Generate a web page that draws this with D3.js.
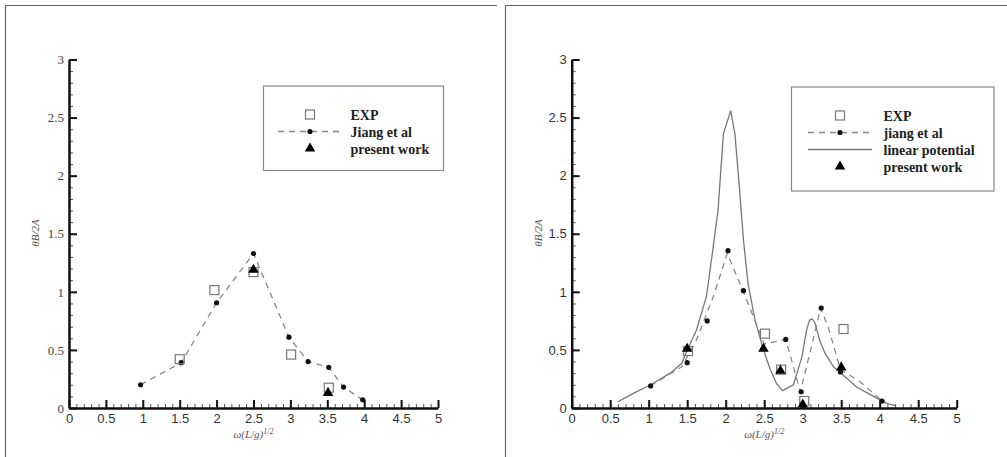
<!DOCTYPE html>
<html>
<head>
<meta charset="utf-8">
<script src="https://cdn.jsdelivr.net/npm/d3@7"></script>
<style>
  body { margin: 0; background: #fff; }
  svg { display: block; }
</style>
</head>
<body>
<script>
// Two panels: response amplitude vs. frequency

// left panel data
const leftExpX = [1.5, 1.97, 2.5, 3.01, 3.52];
const leftExpY = [0.42, 1.015, 1.17, 0.46, 0.175];
const leftJiangX = [0.97, 1.52, 2.0, 2.5, 2.98, 3.24, 3.52, 3.72, 3.98];
const leftJiangY = [0.2, 0.39, 0.906, 1.33, 0.61, 0.40, 0.35, 0.18, 0.07];
const leftPresentX = [2.5, 3.51];
const leftPresentY = [1.19, 0.13];

// right panel data
const rightExpX = [1.51, 2.51, 2.72, 3.02, 3.53];
const rightExpY = [0.49, 0.64, 0.33, 0.06, 0.68];
const rightJiangX = [1.025, 1.5, 1.76, 2.03, 2.23, 2.78, 2.98, 3.24, 3.49, 4.03];
const rightJiangY = [0.19, 0.39, 0.75, 1.354, 1.01, 0.59, 0.14, 0.86, 0.31, 0.06];
// dashed curve vertices (not every vertex carries a symbol)
const rightJiangLineX = [1.02, 1.43, 1.62, 1.84, 2.02, 2.23, 2.5, 2.78, 2.97, 3.18, 3.23, 3.33, 3.49, 3.74, 4.03];
const rightJiangLineY = [0.19, 0.355, 0.585, 0.96, 1.33, 1.0, 0.55, 0.59, 0.14, 0.71, 0.86, 0.70, 0.33, 0.23, 0.06];
const rightLinearX = [0.6, 0.8, 1.02, 1.28, 1.43, 1.5, 1.62, 1.75, 1.82, 1.9, 1.97, 2.065, 2.12, 2.18, 2.23,
  2.29, 2.38, 2.49, 2.58, 2.66, 2.74, 2.88, 2.99, 3.05, 3.09, 3.125, 3.16, 3.22, 3.29, 3.40, 3.48, 3.7, 3.92, 4.09, 4.2];
const rightLinearY = [0.054, 0.126, 0.198, 0.30, 0.385, 0.5, 0.67, 0.96, 1.30, 1.70, 2.36, 2.56, 2.36, 1.88, 1.45,
  1.07, 0.76, 0.5, 0.33, 0.21, 0.15, 0.2, 0.44, 0.67, 0.757, 0.766, 0.73, 0.585, 0.47, 0.355, 0.31, 0.18, 0.10, 0.04, 0.02];
const rightPresentX = [1.5, 2.49, 2.71, 3.0, 3.5];
const rightPresentY = [0.51, 0.51, 0.32, 0.03, 0.35];

// ticks
const xTicks = [0, 0.5, 1, 1.5, 2, 2.5, 3, 3.5, 4, 4.5, 5];
const yTicks = [0, 0.5, 1, 1.5, 2, 2.5, 3];
const minorTicks = d3.range(0, 5.001, 0.1);
const minorYTicks = d3.range(0, 3.001, 0.1);

const leftLegend = ["EXP", "Jiang et al", "present work"];
const rightLegend = ["EXP", "jiang et al", "linear potential", "present work"];

const svg = d3.select("body").append("svg")
  .attr("width", 1007)
  .attr("height", 457);

const zip = (xs, ys) => xs.map((x, i) => [x, ys[i]]);

function drawPanel(opt) {
  const g = svg.append("g");

  // panel frame (only top and left edges are visible in the crop)
  g.append("path")
    .attr("d", `M${opt.frameX},457 V5.5 H${opt.frameEnd}`)
    .attr("fill", "none")
    .attr("stroke", "#666")
    .attr("stroke-width", 1.2);

  const x = d3.scaleLinear().domain([0, 5]).range(opt.xRange);
  const y = d3.scaleLinear().domain([0, 3]).range([408, 59.5]);

  // minor ticks
  g.append("g")
    .attr("transform", "translate(0,408)")
    .call(d3.axisBottom(x).tickValues(minorTicks).tickSize(-4).tickSizeOuter(0).tickFormat(""))
    .call(a => a.select(".domain").remove())
    .call(a => a.selectAll("line").attr("stroke", "#555"));
  g.append("g")
    .attr("transform", `translate(${opt.xRange[0]},0)`)
    .call(d3.axisLeft(y).tickValues(minorYTicks).tickSize(-4).tickSizeOuter(0).tickFormat(""))
    .call(a => a.select(".domain").remove())
    .call(a => a.selectAll("line").attr("stroke", "#555"));

  // major ticks + labels
  const xa = g.append("g")
    .attr("transform", "translate(0,408)")
    .call(d3.axisBottom(x).tickValues(xTicks).tickSize(-8).tickSizeOuter(0).tickPadding(6).tickFormat(d3.format("")));
  xa.select(".domain").attr("stroke", "#111").attr("stroke-width", 2.5);
  xa.selectAll("line").attr("stroke", "#111").attr("stroke-width", 2);
  xa.selectAll("text")
    .attr("font-family", "'Liberation Sans', Arial, sans-serif")
    .attr("font-size", 13)
    .attr("fill", "#333");

  const ya = g.append("g")
    .attr("transform", `translate(${opt.xRange[0]},0)`)
    .call(d3.axisLeft(y).tickValues(yTicks).tickSize(-8).tickSizeOuter(0).tickPadding(5).tickFormat(d3.format("")));
  ya.select(".domain").attr("stroke", "#111").attr("stroke-width", 2.5);
  ya.selectAll("line").attr("stroke", "#111").attr("stroke-width", 2);
  ya.selectAll("text")
    .attr("font-family", opt.yFont)
    .attr("font-size", 13)
    .attr("fill", opt.yFill);

  // axis titles
  const xt = g.append("text")
    .attr("x", (opt.xRange[0] + opt.xRange[1]) / 2)
    .attr("y", 438)
    .attr("text-anchor", "middle")
    .attr("font-family", "'Liberation Serif', serif")
    .attr("font-style", "italic")
    .attr("font-size", 11)
    .attr("fill", "#555");
  xt.append("tspan").text("ω(L/g)");
  xt.append("tspan").attr("dy", -4).attr("font-size", 8).text("1/2");

  g.append("text")
    .attr("transform", `translate(${opt.xRange[0] - 30},233) rotate(-90)`)
    .attr("text-anchor", "middle")
    .attr("font-family", "'Liberation Serif', serif")
    .attr("font-style", "italic")
    .attr("font-size", 11)
    .attr("fill", "#555")
    .text("θB/2A");

  const line = d3.line().x(d => x(d[0])).y(d => y(d[1]));

  // linear potential (solid)
  if (opt.linear) {
    g.append("path")
      .attr("d", line(opt.linear))
      .attr("fill", "none")
      .attr("stroke", "#777")
      .attr("stroke-width", 1.3);
  }

  // Jiang et al (dashed)
  g.append("path")
    .attr("d", line(opt.jiangLine))
    .attr("fill", "none")
    .attr("stroke", "#888")
    .attr("stroke-width", 1.3)
    .attr("stroke-dasharray", "6,5");

  g.append("g").selectAll("circle")
    .data(opt.jiang)
    .join("circle")
    .attr("cx", d => x(d[0]))
    .attr("cy", d => y(d[1]))
    .attr("r", 2.6)
    .attr("fill", "#111");

  // EXP squares
  g.append("g").selectAll("rect")
    .data(opt.exp)
    .join("rect")
    .attr("x", d => x(d[0]) - 4.5)
    .attr("y", d => y(d[1]) - 4.5)
    .attr("width", 9)
    .attr("height", 9)
    .attr("fill", "none")
    .attr("stroke", "#777")
    .attr("stroke-width", 1.2);

  // present work triangles
  const tri = d3.symbol().type(d3.symbolTriangle).size(48);
  g.append("g").selectAll("path")
    .data(opt.present)
    .join("path")
    .attr("transform", d => `translate(${x(d[0])},${y(d[1])})`)
    .attr("d", tri)
    .attr("fill", "#000");

  // legend
  const L = opt.legend;
  g.append("rect")
    .attr("x", L.x).attr("y", L.y)
    .attr("width", L.w).attr("height", L.h)
    .attr("fill", "#fff")
    .attr("stroke", "#888")
    .attr("stroke-width", 1.2);

  L.labels.forEach((lab, i) => {
    const cy = L.y + 28.5 + i * 17;
    const kind = L.kinds[i];
    if (kind === "exp") {
      g.append("rect")
        .attr("x", L.symX - 4.5).attr("y", cy - 4.5)
        .attr("width", 9).attr("height", 9)
        .attr("fill", "none").attr("stroke", "#777").attr("stroke-width", 1.2);
    } else if (kind === "jiang") {
      g.append("line")
        .attr("x1", L.lineX0).attr("x2", L.lineX1).attr("y1", cy).attr("y2", cy)
        .attr("stroke", "#888").attr("stroke-width", 1.3).attr("stroke-dasharray", "6,5");
      g.append("circle").attr("cx", L.symX).attr("cy", cy).attr("r", 2.6).attr("fill", "#111");
    } else if (kind === "linear") {
      g.append("line")
        .attr("x1", L.lineX0).attr("x2", L.lineX1).attr("y1", cy).attr("y2", cy)
        .attr("stroke", "#777").attr("stroke-width", 1.3);
    } else {
      g.append("path")
        .attr("transform", `translate(${L.symX},${cy})`)
        .attr("d", tri).attr("fill", "#000");
    }
    g.append("text")
      .attr("x", L.textX)
      .attr("y", cy + 5)
      .attr("font-family", "'Liberation Serif', 'Times New Roman', serif")
      .attr("font-weight", "bold")
      .attr("font-size", 14)
      .attr("fill", "#222")
      .text(lab);
  });
}

drawPanel({
  frameX: 5.5, frameEnd: 497,
  xRange: [69, 438],
  yFont: "'Liberation Serif', 'Times New Roman', serif",
  yFill: "#444",
  exp: zip(leftExpX, leftExpY),
  jiang: zip(leftJiangX, leftJiangY),
  jiangLine: zip(leftJiangX, leftJiangY),
  present: zip(leftPresentX, leftPresentY),
  legend: {
    x: 263.5, y: 86, w: 180, h: 84.5,
    symX: 310, lineX0: 278, lineX1: 340, textX: 350.5,
    labels: leftLegend, kinds: ["exp", "jiang", "present"]
  }
});

drawPanel({
  frameX: 505.5, frameEnd: 1007,
  xRange: [571.7, 956.7],
  yFont: "'Liberation Sans', Arial, sans-serif",
  yFill: "#333",
  exp: zip(rightExpX, rightExpY),
  jiang: zip(rightJiangX, rightJiangY),
  jiangLine: zip(rightJiangLineX, rightJiangLineY),
  linear: zip(rightLinearX, rightLinearY),
  present: zip(rightPresentX, rightPresentY),
  legend: {
    x: 791.5, y: 87, w: 202.5, h: 104,
    symX: 840, lineX0: 808, lineX1: 872, textX: 883.5,
    labels: rightLegend, kinds: ["exp", "jiang", "linear", "present"]
  }
});
</script>
</body>
</html>
